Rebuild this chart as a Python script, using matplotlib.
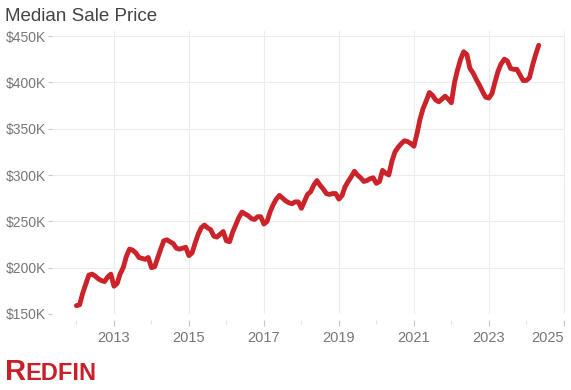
import pandas as pd
import matplotlib
matplotlib.use("Agg")
import matplotlib.pyplot as plt
import matplotlib.dates as mdates
import matplotlib.transforms as mtransforms
from matplotlib.ticker import FuncFormatter

# monthly median sale price, thousands of dollars, Jan 2012 onwards
price_2012 = [159, 160, 172, 182, 192, 193, 191, 188, 186, 185, 190, 193]
price_2013 = [180, 183, 193, 200, 212, 220, 219, 216, 211, 210, 209, 211]
price_2014 = [200, 201, 210, 220, 229, 230, 228, 226, 221, 220, 221, 222]
price_2015 = [213, 216, 226, 236, 243, 246, 243, 241, 234, 233, 236, 239]
price_2016 = [229, 228, 238, 246, 254, 260, 258, 256, 253, 252, 255, 255]
price_2017 = [247, 250, 260, 268, 274, 278, 275, 272, 270, 269, 271, 271]
price_2018 = [264, 272, 279, 282, 289, 294, 289, 285, 280, 279, 280, 280]
price_2019 = [274, 278, 287, 293, 298, 304, 300, 297, 293, 294, 296, 297]
price_2020 = [291, 293, 305, 302, 300, 315, 325, 330, 334, 337, 336, 334]
price_2021 = [331, 345, 360, 372, 380, 389, 386, 381, 379, 382, 385, 382]
price_2022 = [378, 400, 413, 425, 433, 430, 415, 410, 403, 397, 390, 384]
price_2023 = [383, 388, 400, 412, 420, 425, 423, 415, 414, 414, 408, 402]
price_2024 = [402, 405, 418, 430, 440]

prices = (price_2012 + price_2013 + price_2014 + price_2015 + price_2016
          + price_2017 + price_2018 + price_2019 + price_2020 + price_2021
          + price_2022 + price_2023 + price_2024)
months = pd.date_range("2012-01-01", periods=len(prices), freq="MS")

y_ticks = [150, 200, 250, 300, 350, 400, 450]
label_years = [2013, 2015, 2017, 2019, 2021, 2023, 2025]
minor_years = [2012, 2014, 2016, 2018, 2020, 2022, 2024]

plt.rcParams['font.family'] = ['Liberation Sans', 'DejaVu Sans']

fig = plt.figure(figsize=(5.71, 3.90), dpi=100)
ax = fig.add_axes([52 / 571, 1 - 314 / 390, (565 - 52) / 571, (314 - 31) / 390])

ax.plot(months, prices, color='#cc2229', linewidth=3.5,
        solid_joinstyle='round', solid_capstyle='round', zorder=3)

ax.set_ylim(150, 455.4)
ax.set_xlim(mdates.date2num(pd.Timestamp("2011-05-08")),
            mdates.date2num(pd.Timestamp("2025-01-12")))

ax.set_yticks(y_ticks)
ax.yaxis.set_major_formatter(FuncFormatter(lambda v, p: f"${int(v)}K"))
ax.set_xticks([pd.Timestamp(f"{y}-01-01") for y in label_years])
# last label is drawn by hand, right-aligned so it stays inside the figure
ax.set_xticklabels([str(y) for y in label_years[:-1]] + [""])
ax.set_xticks([pd.Timestamp(f"{y}-01-01") for y in minor_years], minor=True)

ax.grid(True, which='major', color='#ececec', linewidth=0.8)
for s in ax.spines.values():
    s.set_visible(False)
ax.spines['bottom'].set_position(('outward', 4.5))

ax.tick_params(axis='y', length=3, width=0.8, color='#c8c8c8', pad=1.5,
               labelsize=10, labelcolor='#777777')
ax.tick_params(axis='x', which='major', length=4, width=0.8, color='#c8c8c8',
               pad=3.5, labelsize=10.5, labelcolor='#777777')
ax.tick_params(axis='x', which='minor', length=3, width=0.8, color='#e4e4e4')

off = mtransforms.offset_copy(ax.get_xaxis_transform(), fig=fig, x=0, y=-12,
                              units='points')
ax.text(pd.Timestamp(f"{label_years[-1]}-01-01"), 0, str(label_years[-1]),
        transform=off, ha='right', va='top', fontsize=10.5, color='#777777')

fig.text(5 / 571, 1 - 21 / 390, "Median Sale Price", fontsize=13.5,
         color='#444444', ha='left', va='baseline')

# logo
fig.text(5 / 571, 1 - 380 / 390, "R", fontsize=21, fontweight='bold',
         color='#c8202a', ha='left', va='baseline')
fig.text(25 / 571, 1 - 380 / 390, "EDFIN", fontsize=17, fontweight='bold',
         color='#c8202a', ha='left', va='baseline')

fig.savefig("out.png", dpi=100)
